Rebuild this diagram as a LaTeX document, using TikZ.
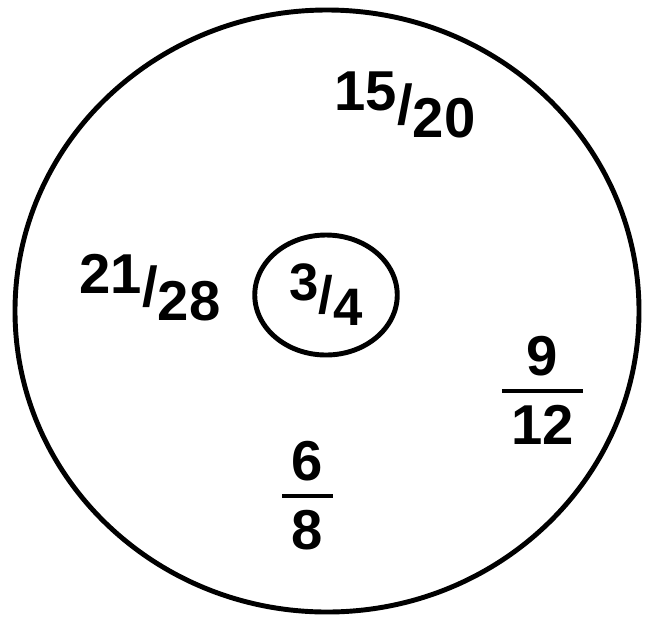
\documentclass[tikz,border=0pt]{standalone}
\usepackage{fontspec}
\setmainfont{Liberation Sans}
\usepackage{tikz}
\usetikzlibrary{shapes.geometric,positioning}

\newcommand{\slfrac}[2]{\raisebox{0.45ex}{#1}/\raisebox{-0.45ex}{#2}}
\newcommand{\stfrac}[2]{\setlength{\arrayrulewidth}{2.4pt}\begin{tabular}{@{}c@{}}\,#1\,\\[-0.1em]\hline\\[-1.0em]\,#2\,\end{tabular}}

\begin{document}
\begin{tikzpicture}[
        x=1cm, y=1cm,
        % styles
        rim/.style={draw, line width=2.8pt},
        frac/.style={font=\fontsize{32}{36}\selectfont\bfseries, inner sep=1pt},
        center/.style={ellipse, draw, line width=2.8pt, minimum width=2.85cm, minimum height=2.4cm, inner sep=0pt, font=\fontsize{30}{34}\selectfont\bfseries}
    ]
        \useasboundingbox (0,0) rectangle (13,-12.46);

        % outer ring
        \draw[rim] (6.54,-6.22) ellipse [x radius=6.24, y radius=6.02];

        % middle value
        \node[center] (whole) at (6.52,-5.9) {\slfrac{3}{4}};

        % equivalent fractions
        \node[frac] (top) at (8.1,-2.1) {\slfrac{15}{20}};
        \node[frac] (left) at (3.0,-5.75) {\slfrac{21}{28}};
        \node[frac] (right) at (10.85,-7.95) {\stfrac{9}{12}};
        \node[frac] (bottom) at (6.15,-10.05) {\stfrac{6}{8}};

    \end{tikzpicture}
\end{document}
